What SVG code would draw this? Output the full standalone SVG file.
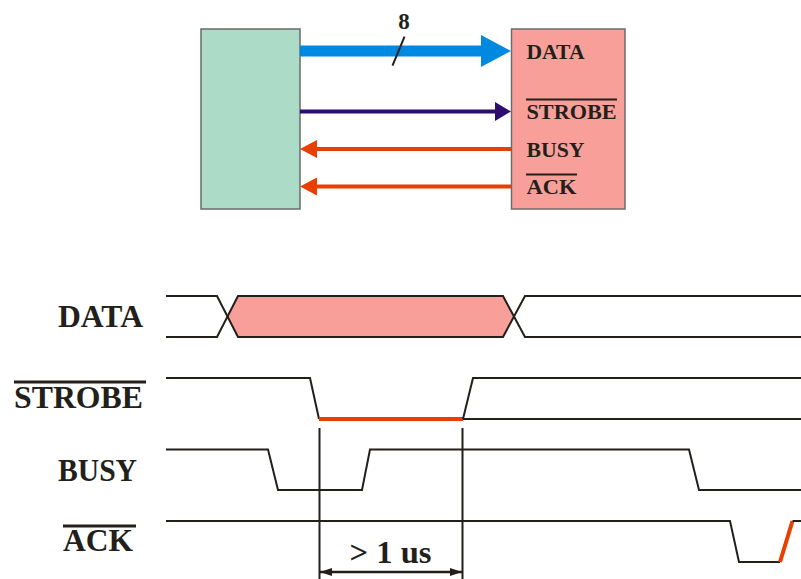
<svg xmlns="http://www.w3.org/2000/svg" width="801" height="579" viewBox="0 0 801 579">
<style>
text{font-family:"Liberation Serif","Times New Roman",serif;font-weight:bold;fill:#231f1a}
.sm{font-size:21px}
.lg{font-size:32px}
.w{fill:none;stroke:#231f1a;stroke-width:2;stroke-linejoin:miter}
.ov{stroke:#231f1a;stroke-width:2}
.red{fill:none;stroke:#e83e00;stroke-width:4}
</style>
<defs>
<marker id="ah" viewBox="0 0 12 8" refX="12" refY="4" markerWidth="12" markerHeight="8" markerUnits="userSpaceOnUse" orient="auto-start-reverse">
<path d="M0,0 L12,4 L0,8 Z" fill="#231f1a"/>
</marker>
</defs>
<g id="cpu"><rect x="201" y="29" width="99" height="180" fill="#acdbc8" stroke="#6b6b6b" stroke-width="1.5"/></g>
<g id="printer">
<rect x="511.5" y="29" width="113.5" height="180" fill="#f99f9a" stroke="#6b6b6b" stroke-width="1.5"/>
<text class="sm" x="526.5" y="59" textLength="58" lengthAdjust="spacingAndGlyphs">DATA</text>
<text class="sm" x="526.5" y="119" textLength="90" lengthAdjust="spacingAndGlyphs">STROBE</text>
<line class="ov" x1="526" y1="99.5" x2="617" y2="99.5"/>
<text class="sm" x="526.5" y="157" textLength="58" lengthAdjust="spacingAndGlyphs">BUSY</text>
<text class="sm" x="526.5" y="194" textLength="50" lengthAdjust="spacingAndGlyphs">ACK</text>
<line class="ov" x1="526" y1="174.5" x2="577" y2="174.5"/>
</g>
<g id="connectors">
<rect x="300" y="45.5" width="182" height="11" fill="#0089e0"/>
<path d="M481,35 L511,51 L481,67 Z" fill="#0089e0"/>
<line x1="392.5" y1="65.7" x2="404.5" y2="36.7" stroke="#231f1a" stroke-width="2"/>
<text class="sm" x="404" y="28.5" text-anchor="middle" style="font-size:23px">8</text>
<line x1="300" y1="111.5" x2="497" y2="111.5" stroke="#2e0b6e" stroke-width="4"/>
<path d="M495,102 L511,111.5 L495,121 Z" fill="#2e0b6e"/>
<line x1="315" y1="149" x2="511" y2="149" stroke="#e83e00" stroke-width="4"/>
<path d="M317,140 L300,149 L317,158 Z" fill="#e83e00"/>
<line x1="315" y1="186.5" x2="511" y2="186.5" stroke="#e83e00" stroke-width="4"/>
<path d="M317,177.5 L300,186.5 L317,195.5 Z" fill="#e83e00"/>
</g>
<g id="timing">
<text class="lg" x="58" y="327" textLength="85" lengthAdjust="spacingAndGlyphs">DATA</text>
<text class="lg" x="14" y="408" textLength="129" lengthAdjust="spacingAndGlyphs">STROBE</text>
<line x1="14" y1="382" x2="146" y2="382" stroke="#231f1a" stroke-width="3"/>
<text class="lg" x="58" y="481" textLength="79" lengthAdjust="spacingAndGlyphs">BUSY</text>
<text class="lg" x="63" y="551" textLength="70" lengthAdjust="spacingAndGlyphs">ACK</text>
<line x1="63" y1="526" x2="136" y2="526" stroke="#231f1a" stroke-width="3"/>

<path d="M227.5,316.5 L238,296 L503,296 L513.5,316.5 L503,337 L238,337 Z" fill="#f99f9a"/>
<path class="w" d="M166,296 H217 L238,337 H503 L525,296 H801"/>
<path class="w" d="M166,337 H217 L238,296 H503 L525,337 H801"/>

<path class="w" d="M166,378 H310 L319,419"/>
<line class="red" x1="319" y1="419" x2="463" y2="419"/>
<path class="w" d="M463,419 L473,378 H801"/>
<path class="w" d="M463,419 H801"/>

<path class="w" d="M166,449.5 H268 L278,490 H362 L370,449.5 H689 L699,490 H801"/>

<path class="w" d="M166,521 H730 L739,562 H780"/>
<line class="red" x1="780" y1="562" x2="792.5" y2="521"/>
<path class="w" d="M792.5,521 H801"/>

<line x1="319.5" y1="428" x2="319.5" y2="579" stroke="#231f1a" stroke-width="2"/>
<line x1="462.5" y1="428" x2="462.5" y2="579" stroke="#231f1a" stroke-width="2"/>
<line x1="320" y1="572" x2="462" y2="572" stroke="#231f1a" stroke-width="2.5" marker-start="url(#ah)" marker-end="url(#ah)"/>
<text class="lg" x="349.5" y="563" textLength="82" lengthAdjust="spacingAndGlyphs">&gt; 1 us</text>
</g>
</svg>
